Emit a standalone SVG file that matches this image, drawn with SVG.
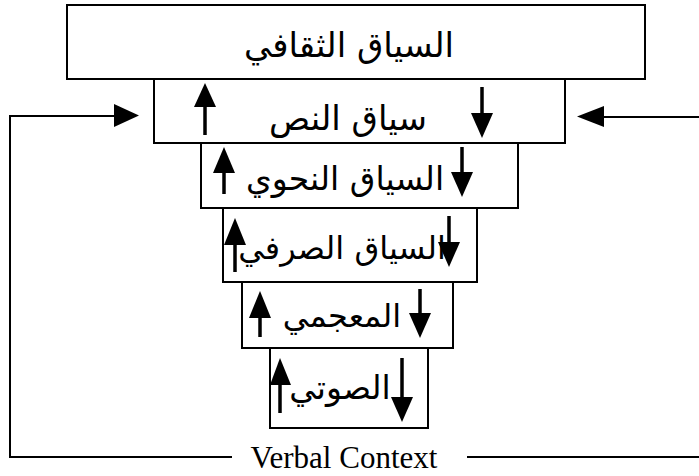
<svg xmlns="http://www.w3.org/2000/svg" width="699" height="476" viewBox="0 0 699 476">
<style>
.box{fill:#fff;stroke:#000;stroke-width:2}
.ar{font-family:"DejaVu Sans",sans-serif;font-size:34px;fill:#000;text-anchor:middle;direction:rtl}
.shaft{stroke:#000;stroke-width:3.5;fill:none}
.head{fill:#000}
.line{stroke:#000;stroke-width:2;fill:none}
.en{font-family:"Liberation Serif",serif;font-size:31px;fill:#000;text-anchor:middle}
</style>
<rect width="699" height="476" fill="#fff"/>
<g id="connectors">
<polyline class="line" points="232,457 10,457 10,116 116,116"/>
<polygon class="head" points="114,104 139,115.5 114,127"/>
<line class="line" x1="604" y1="117" x2="699" y2="117"/>
<polygon class="head" points="604,106 577,116.5 604,127"/>
<line class="line" x1="467" y1="457" x2="699" y2="457"/>
</g>
<g id="n1">
<rect class="box" x="67" y="5" width="578" height="74"/>
<text class="ar" x="349" y="57">السياق الثقافي</text>
</g>
<g id="n2">
<rect class="box" x="154" y="79" width="411" height="64"/>
<text class="ar" x="348" y="130">سياق النص</text>
<line class="shaft" x1="205" y1="100" x2="205" y2="135"/>
<polygon class="head" points="205,83 194,107 216,107"/>
<line class="shaft" x1="482" y1="87" x2="482" y2="118"/>
<polygon class="head" points="482,138 471,113 493,113"/>
</g>
<g id="n3">
<rect class="box" x="201" y="143" width="317" height="65"/>
<text class="ar" x="345" y="190" style="font-size:33px">السياق النحوي</text>
<line class="shaft" x1="224" y1="168" x2="224" y2="194"/>
<polygon class="head" points="224,147 213,173 235,173"/>
<line class="shaft" x1="462" y1="147" x2="462" y2="178"/>
<polygon class="head" points="462,197 451,172 473,172"/>
</g>
<g id="n4">
<rect class="box" x="223" y="208" width="254" height="74"/>
<text class="ar" x="342" y="259" style="font-size:32px">السياق الصرفي</text>
<line class="shaft" x1="235" y1="240" x2="235" y2="272"/>
<polygon class="head" points="235,218 224,245 246,245"/>
<line class="shaft" x1="449" y1="216" x2="449" y2="247"/>
<polygon class="head" points="449,267 438,242 460,242"/>
</g>
<g id="n5">
<rect class="box" x="242" y="282" width="211" height="66"/>
<text class="ar" x="342" y="327" style="font-size:32px">المعجمي</text>
<line class="shaft" x1="260" y1="313" x2="260" y2="337"/>
<polygon class="head" points="260,291 249,318 271,318"/>
<line class="shaft" x1="420" y1="289" x2="420" y2="318"/>
<polygon class="head" points="420,338 409,313 431,313"/>
</g>
<g id="n6">
<rect class="box" x="270" y="348" width="158" height="80"/>
<text class="ar" x="340" y="399" style="font-size:33px">الصوتي</text>
<line class="shaft" x1="280" y1="380" x2="280" y2="413"/>
<polygon class="head" points="280,358 270,385 291,385"/>
<line class="shaft" x1="402" y1="358" x2="402" y2="402"/>
<polygon class="head" points="402,422 391,397 413,397"/>
</g>
<text class="en" x="344" y="468">Verbal Context</text>
</svg>
